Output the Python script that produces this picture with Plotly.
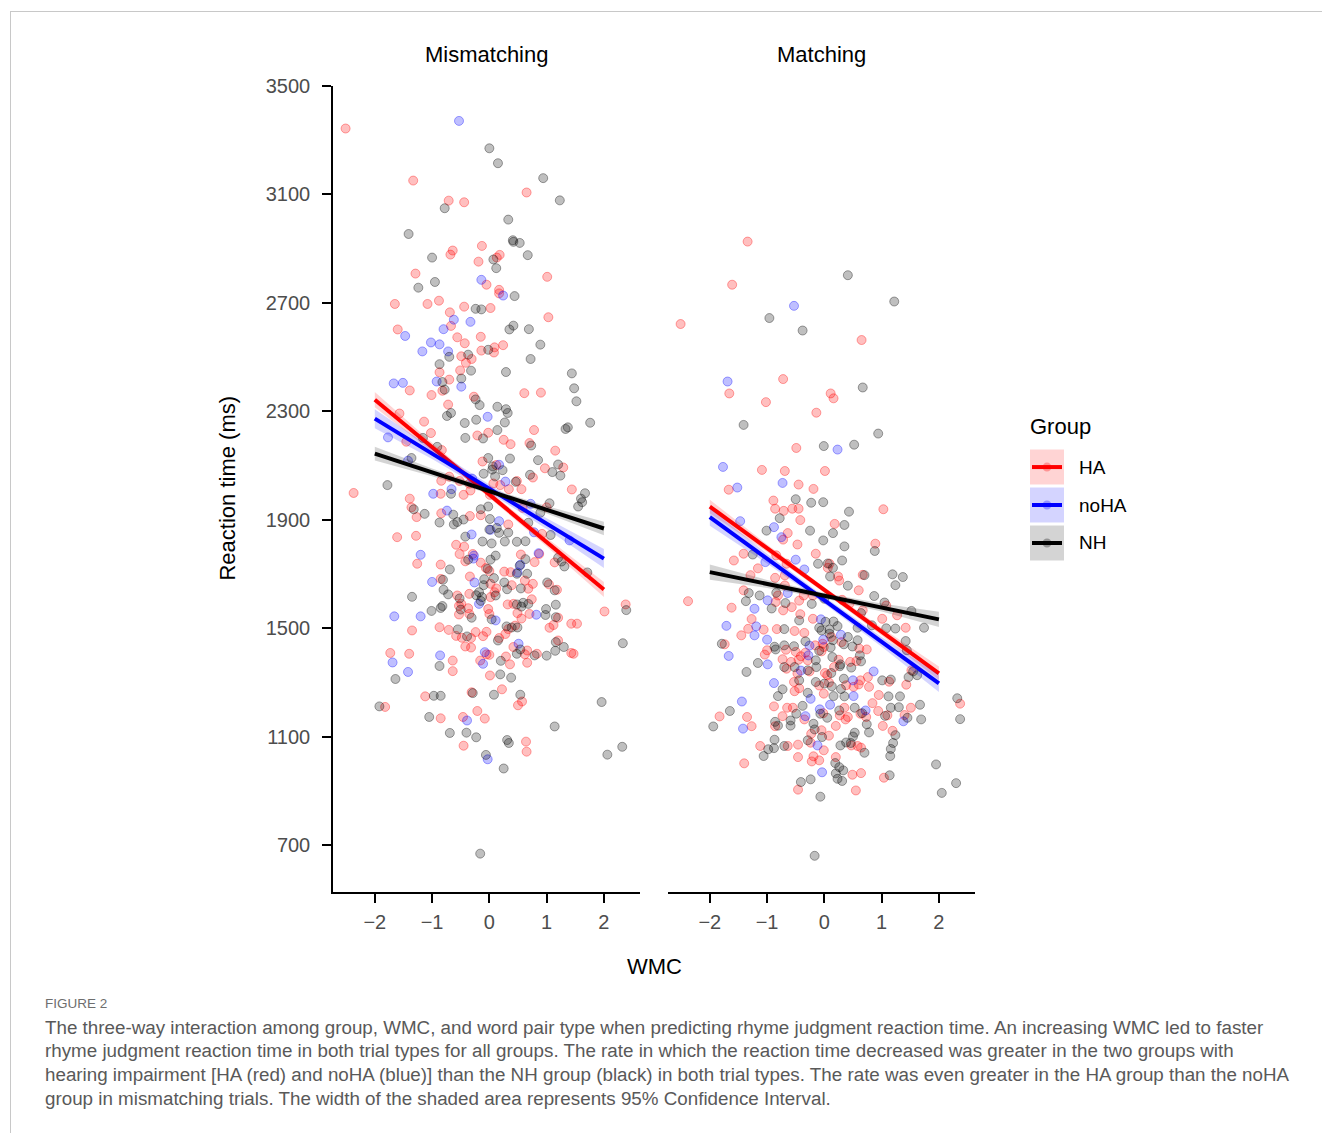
import numpy as np
import plotly.graph_objects as go

# ---------------- DATA ----------------
groups = ["HA", "noHA", "NH"]

# Mismatching panel: (WMC, reaction time ms)
mis_HA_wmc = [-2.51,-1.33,0.65,-0.71,-0.44,-0.13,-0.64,-0.68,0.18,0.13,-0.19,-1.29,1.01,-0.05,0.17,0.17,
 -1.65,-1.08,-0.88,-0.44,0.02,1.03,-0.69,-0.67,-1.6,-0.56,-0.15,-0.43,0.24,0.09,-0.14,0.08,-0.49,-0.31,-0.41,-0.51,-0.87,-0.7,-0.82,-1.39,-1.01,0.61,0.9,-0.27,-0.72,-1.57,-1.14,0.78,-1.02,-0.02,-0.21,0.25,0.37,0.7,-1.45,-0.83,1.15,-0.12,0.12,0.97,1.29,0.76,-0.84,-0.7,0.48,-0.52,-0.35,0.07,0.19,0.34,0.56,1.44,-2.37,-0.85,-0.45,-0.33,-1.39,0.01,
 -1.36,-1.27,-0.84,-0.34,-0.15,0.33,0.58,1.0,-1.61,-1.28,0.92,-0.58,-0.44,-0.52,-1.26,-0.29,-0.42,-0.15,-0.06,0.0,0.55,0.87,0.79,1.14,-0.85,-0.85,-0.34,0.26,0.37,0.62,0.02,0.39,0.76,1.04,1.18,0.68,0.12,0.09,-0.35,-0.56,0.02,-0.49,-0.53,-0.37,-0.02,0.0,-0.35,-0.53,0.32,0.42,0.49,0.74,0.56,0.7,1.2,2.01,2.38,-1.35,-0.87,-0.71,-0.58,-0.48,-0.32,-0.24,-0.11,-0.05,-0.42,-0.32,0.17,0.28,0.33,0.45,0.42,0.62,0.66,0.66,0.83,1.2,1.05,1.12,1.43,1.53,-1.73,-1.4,-0.64,-0.64,-0.05,0.0,-0.16,0.01,0.29,0.36,0.22,-1.12,-0.31,1.43,1.47,
 -1.82,-0.85,-0.46,-0.21,-0.08,0.5,0.57,-0.45,0.64,0.65]
mis_HA_rt = [3343,3151,3107,3077,3071,2910,2893,2878,2877,2867,2852,2808,2796,2767,2748,2735,
 2696,2696,2708,2686,2681,2647,2665,2615,2602,2573,2575,2551,2544,2536,2524,2517,2503,2493,2479,2451,2444,2417,2376,2377,2360,2367,2369,2354,2325,2292,2262,2231,2220,2221,2211,2195,2179,2183,2188,2157,2155,2115,2102,2090,2093,2056,2044,2059,2043,2043,2033,2034,2028,2013,2013,2012,1999,1996,1992,2008,1978,1992,
 1946,1910,1924,1914,1917,1883,1944,1946,1836,1841,1848,1808,1801,1774,1738,1774,1747,1742,1722,1711,1772,1774,1744,1743,1735,1682,1691,1709,1707,1676,1664,1659,1664,1662,1642,1646,1647,1633,1627,1621,1615,1590,1583,1574,1571,1553,1553,1551,1588,1590,1556,1607,1536,1553,1539,1562,1588,1492,1504,1494,1472,1465,1464,1486,1471,1487,1433,1429,1464,1479,1497,1510,1431,1404,1418,1373,1406,1455,1502,1512,1517,1517,1409,1406,1381,1342,1404,1402,1381,1326,1396,1367,1275,1249,1264,1409,1406,
 1210,1168,1173,1195,1167,1216,1230,1067,1082,1045]

mis_noHA_wmc = [-0.53,-0.14,0.24,-0.62,-0.8,-0.33,-1.47,-1.02,-0.87,-1.17,-0.72,-1.67,-1.51,-0.92,-0.49,-0.03,-1.77,-1.42,0.17,0.28,-0.3,-0.66,-0.98,-0.74,0.17,0.72,-0.31,0.02,0.78,1.4,-1.2,-0.27,-0.28,0.86,0.54,0.49,-1.0,-0.26,-0.18,0.11,0.82,-1.66,-1.2,-1.69,-0.86,-1.42,-0.08,-0.11,0.51,-0.39,-0.03]
mis_noHA_rt = [3371,2785,2727,2638,2603,2630,2578,2554,2547,2521,2521,2403,2405,2410,2391,2280,2204,2118,2103,2041,2052,2013,1996,1934,1895,1959,1846,1863,1854,1824,1771,1768,1757,1777,1734,1706,1671,1669,1590,1529,1550,1544,1544,1374,1400,1339,1412,1369,1443,1160,1017]

mis_NH_wmc = [0.0,0.15,0.94,1.23,-0.78,0.33,-1.41,0.41,0.42,0.53,-1.0,0.07,0.67,0.12,-0.95,-1.24,0.44,
 -0.24,-0.14,0.42,0.35,0.69,0.89,-0.02,-0.7,-0.37,0.72,-0.87,-0.32,0.29,1.44,-0.82,-0.49,-0.78,1.48,-0.24,1.52,-0.17,0.14,0.29,0.32,-0.67,-0.74,-0.23,-0.43,0.27,1.76,1.37,1.33,0.14,-0.42,-0.11,0.73,-1.16,-0.91,-1.36,-0.02,0.36,0.85,0.06,1.2,-0.1,0.05,0.23,1.1,1.24,0.1,0.71,0.46,-1.78,-0.67,1.67,1.6,
 -1.32,-1.13,-0.87,-0.63,-0.62,-0.56,-0.45,-0.15,-0.02,0.01,0.13,0.89,1.05,1.55,1.62,0.68,-0.42,0.0,0.17,0.33,-0.12,0.04,0.27,0.48,0.63,1.07,0.11,0.02,-0.37,-0.03,0.63,0.53,1.2,1.26,1.31,1.71,-0.69,-0.81,0.48,0.66,-0.09,0.08,-0.1,0.26,1.01,1.14,0.55,0.31,0.11,-0.18,-0.13,-0.23,-0.52,-0.8,-0.72,-1.35,-0.15,-0.5,-0.82,-0.85,-1.01,-0.31,0.04,0.48,0.56,0.59,0.68,0.98,0.99,1.16,1.16,2.39,-0.55,-0.39,0.15,0.3,0.49,0.39,0.54,0.48,0.79,1.0,1.15,1.3,1.16,2.33,-0.87,-1.64,0.2,0.19,0.38,-0.97,-0.85,-0.29,0.08,0.54,1.96,
 -1.92,-1.05,1.14,-0.69,-0.4,-0.23,0.31,0.34,-0.06,0.25,2.06,2.32,-0.16]
mis_NH_rt = [3270,3215,3160,3078,3049,3007,2954,2931,2925,2921,2867,2860,2876,2828,2777,2756,2725,
 2678,2676,2616,2602,2603,2546,2527,2501,2509,2493,2474,2450,2445,2440,2408,2421,2380,2385,2344,2337,2323,2317,2308,2294,2294,2283,2269,2257,2259,2258,2241,2235,2231,2202,2200,2174,2202,2169,2128,2128,2126,2120,2097,2104,2070,2085,2083,2076,2063,2060,2066,2040,2028,1996,1998,1978,
 1939,1922,1890,1919,1883,1892,1901,1939,1949,1903,1870,1926,1961,1949,1965,1889,1838,1864,1852,1853,1820,1813,1820,1819,1821,1844,1768,1753,1753,1719,1755,1731,1760,1746,1728,1706,1717,1679,1701,1701,1681,1685,1659,1669,1669,1640,1647,1644,1621,1633,1615,1622,1610,1642,1625,1616,1601,1569,1582,1575,1564,1539,1533,1588,1580,1594,1590,1549,1571,1587,1541,1567,1496,1470,1455,1507,1503,1503,1422,1406,1400,1399,1417,1431,1449,1445,1361,1313,1380,1330,1318,1251,1251,1261,1255,1255,1228,
 1212,1173,1138,1114,1115,1098,1088,1077,1033,983,1034,1063,669]

# Matching panel
mat_HA_wmc = [-1.34,-1.61,-2.51,0.65,-0.72,
 -1.66,-1.02,0.11,0.16,-0.14,-0.49,-1.09,-0.69,0.01,-0.45,-0.19,-1.67,-0.89,-0.86,-0.71,-0.56,-0.45,1.03,-0.42,-0.64,0.18,-0.72,
 -0.47,0.89,-1.41,-1.58,-0.84,-0.66,-0.15,0.09,0.06,0.67,-1.16,-1.29,-0.86,-0.69,0.26,0.24,0.6,-1.41,-2.38,-0.81,-0.69,-0.44,-0.85,-0.36,-0.2,0.31,0.44,1.08,0.67,1.27,-1.62,-0.72,-0.57,-0.42,-0.2,1.01,-1.27,-1.33,-1.06,-0.52,-0.35,1.42,-1.45,-0.83,-1.74,-1.0,-0.67,-0.5,-0.33,-0.16,-0.03,-0.01,0.12,0.3,0.61,0.74,-1.04,-0.73,-0.58,-0.45,-0.41,-0.29,-0.05,0.25,0.17,0.45,0.56,-0.66,-0.26,-0.47,0.01,0.05,0.63,0.76,0.78,1.43,1.13,1.52,-0.53,-0.52,-0.44,-0.09,0.08,0.38,0.51,0.6,-0.01,0.95,
 -0.88,-0.65,-0.55,-1.83,-1.35,-1.27,-0.73,-0.35,-0.86,-0.02,0.27,0.35,0.41,0.37,0.63,0.73,0.84,0.94,1.1,1.4,1.51,2.37,0.2,1.02,1.19,-0.23,-0.05,0.08,-1.12,-0.64,-0.46,-0.24,-0.01,0.47,0.58,0.64,-1.4,-0.46,-0.19,-0.22,-0.09,0.2,0.49,0.64,1.04,-0.46,0.55]
mat_HA_rt = [2926,2767,2622,2563,2419,
 2366,2334,2366,2348,2295,2165,2084,2080,2080,2030,2014,2011,1971,1941,1933,1941,1941,1939,1899,1851,1885,1827,
 1809,1812,1775,1750,1769,1738,1775,1738,1723,1697,1721,1696,1686,1695,1676,1691,1640,1640,1600,1621,1658,1602,1597,1621,1621,1605,1591,1584,1566,1548,1576,1566,1578,1552,1535,1535,1534,1498,1495,1490,1483,1502,1474,1497,1441,1419,1421,1413,1410,1437,1443,1431,1468,1449,1425,1422,1403,1386,1376,1384,1397,1382,1415,1384,1357,1376,1379,1351,1341,1333,1335,1327,1308,1320,1284,1292,1303,1345,1302,1268,1279,1289,1300,1290,1284,1293,1259,1254,
 1212,1207,1207,1175,1173,1139,1176,1164,1139,1187,1179,1207,1173,1164,1185,1173,1224,1195,1179,1180,1207,1222,1140,1140,1122,1111,1124,1104,1066,1066,1071,1078,1050,1068,1066,1060,1002,1025,1028,1009,1013,1025,960,966,949,905,902]

mat_noHA_wmc = [-0.53,-1.69,0.23,-1.77,-0.73,-1.52,-1.47,-0.88,-0.75,-1.03,-0.5,-0.35,-0.99,-0.64,-1.22,-0.06,-1.71,-1.19,-1.22,-1.0,-0.26,-0.02,0.29,-1.67,-0.28,-0.99,-0.41,0.5,0.86,-0.88,0.51,-1.44,-0.24,-1.42,-0.33,-0.08,0.1,0.72,1.38,-0.12,-0.04]
mat_noHA_rt = [2689,2410,2159,2095,2036,2019,1895,1873,1836,1744,1753,1717,1603,1630,1572,1533,1509,1507,1474,1458,1436,1458,1476,1398,1400,1367,1344,1308,1341,1298,1250,1230,1240,1130,1176,1201,1218,1197,1157,1068,969]

mat_NH_wmc = [0.41,1.22,-0.96,-0.38,
 0.67,-1.41,0.94,-0.01,0.52,-0.5,-0.23,-0.02,0.43,-0.78,-1.01,-0.25,0.35,0.15,-0.02,
 0.35,0.88,-1.25,-0.11,0.06,0.15,0.31,0.7,0.1,0.41,1.19,1.37,1.24,-1.32,-1.13,-1.37,-0.84,-0.68,-0.22,0.0,0.87,1.05,0.64,1.52,-0.92,-0.44,0.02,0.16,-0.7,-0.09,-0.05,0.09,0.23,0.58,0.83,1.08,1.24,1.74,0.09,-1.79,-0.87,-0.85,-0.7,-0.53,-0.33,-0.09,0.11,0.41,0.34,0.15,0.58,0.49,0.62,1.42,1.44,-0.15,0.14,0.28,0.27,0.47,0.64,-1.16,-0.7,-0.52,-0.14,-0.29,-1.36,0.12,0.34,1.01,1.16,1.47,1.55,1.62,-0.73,-0.44,-0.15,0.0,0.13,0.29,-0.29,-0.81,0.16,0.35,1.12,1.32,2.32,
 -0.38,-1.65,-1.94,-0.49,-0.59,-0.86,-0.81,-0.59,-0.07,0.05,0.26,0.53,0.66,1.06,1.16,1.3,1.45,1.67,1.69,2.37,-0.19,0.74,0.78,1.24,-0.17,-0.04,0.53,0.5,-0.98,-0.87,-0.88,-0.7,-1.06,-0.29,0.28,0.38,0.46,0.7,1.2,1.16,1.15,0.19,0.26,0.33,0.2,0.23,0.31,1.14,-0.41,-0.24,-0.07,1.95,2.05,2.3,-0.17]
mat_NH_rt = [2802,2705,2644,2598,
 2388,2250,2218,2172,2177,1976,1963,1965,1930,1906,1860,1860,1881,1851,1824,
 1802,1785,1772,1738,1739,1723,1750,1696,1691,1657,1699,1689,1659,1630,1621,1600,1631,1593,1590,1609,1619,1595,1556,1564,1573,1529,1524,1525,1497,1502,1492,1495,1508,1502,1511,1500,1499,1502,1480,1443,1432,1422,1437,1434,1452,1417,1429,1468,1441,1456,1456,1433,1400,1453,1419,1382,1394,1367,1360,1355,1378,1372,1357,1357,1357,1345,1339,1335,1314,1308,1311,1320,1341,1327,1275,1308,1302,1296,1286,1276,1262,1250,1250,1249,1249,1249,1242,
 1214,1195,1138,1185,1160,1155,1141,1141,1185,1170,1197,1207,1187,1177,1207,1209,1170,1218,1164,1165,1148,1146,1116,1106,1127,1099,1115,1101,1054,1089,1058,1066,1029,1087,1068,1079,1077,1041,1077,1055,1029,1003,988,976,965,945,937,958,933,943,879,998,893,929,661]

# Fitted lines: predicted RT at WMC = -2 and WMC = 2
fit_wmc = [-2, 2]
mis_fit = {"HA": [2343, 1643], "noHA": [2273, 1757], "NH": [2144, 1868]}
mat_fit = {"HA": [1949, 1334], "noHA": [1910, 1297], "NH": [1707, 1533]}

# 95% CI half-widths (ms) at these WMC values
ci_wmc = [-2, -1, 0, 1, 2]
mis_ci = {"HA": [28, 16, 12, 16, 28], "noHA": [35, 20, 15, 20, 35], "NH": [25, 14, 10, 14, 25]}
mat_ci = {"HA": [25, 14, 10, 14, 25], "noHA": [32, 18, 13, 18, 32], "NH": [28, 15, 10, 15, 28]}

y_ticks = [700, 1100, 1500, 1900, 2300, 2700, 3100, 3500]
x_ticks = [-2, -1, 0, 1, 2]
x_ticktext = ["\u22122", "\u22121", "0", "1", "2"]
panel_titles = ["Mismatching", "Matching"]

# ---------------- STYLE ----------------
W, H = 1322, 1133
TOP = 10                 # page offset above the plot div in the viewer
VS = 1143 / 1133         # vertical correction of the viewer capture
def px(x): return x / W
def py(y): return 1 - (y - TOP) * VS / H

rgb = {"HA": (255, 0, 0), "noHA": (0, 0, 255), "NH": (0, 0, 0)}
line_col = {"HA": "#FF0000", "noHA": "#0000FF", "NH": "#000000"}
def rgba(g, a):
    r, gg, b = rgb[g]
    return f"rgba({r},{gg},{b},{a})"

FONT = "Liberation Sans, Arial, Helvetica, sans-serif"

fig = go.Figure()

points = [
    ("x", "y", {"HA": (mis_HA_wmc, mis_HA_rt), "noHA": (mis_noHA_wmc, mis_noHA_rt), "NH": (mis_NH_wmc, mis_NH_rt)}),
    ("x2", "y2", {"HA": (mat_HA_wmc, mat_HA_rt), "noHA": (mat_noHA_wmc, mat_noHA_rt), "NH": (mat_NH_wmc, mat_NH_rt)}),
]
for xa, ya, d in points:
    for g in groups:
        xs, ys = d[g]
        fig.add_trace(go.Scatter(
            x=xs, y=ys, mode="markers", xaxis=xa, yaxis=ya, showlegend=False, hoverinfo="skip",
            marker=dict(size=9, color=rgba(g, 0.25), line=dict(color=rgba(g, 0.35), width=1))))

for xa, ya, fits, cis in [("x", "y", mis_fit, mis_ci), ("x2", "y2", mat_fit, mat_ci)]:
    for g in groups:
        cx = np.array(ci_wmc, dtype=float)
        centre = np.interp(cx, fit_wmc, fits[g])
        hw = np.array(cis[g], dtype=float)
        fig.add_trace(go.Scatter(
            x=np.concatenate([cx, cx[::-1]]), y=np.concatenate([centre + hw, (centre - hw)[::-1]]),
            fill="toself", fillcolor=rgba(g, 0.17), line=dict(width=0), mode="lines",
            xaxis=xa, yaxis=ya, showlegend=False, hoverinfo="skip"))
        fig.add_trace(go.Scatter(
            x=fit_wmc, y=fits[g], mode="lines", line=dict(color=line_col[g], width=4),
            xaxis=xa, yaxis=ya, showlegend=False, hoverinfo="skip"))

xrange = [-2.73, 2.63]
yrange = [527, 3500]
tickfont = dict(family=FONT, size=20, color="#4d4d4d")
axis_common = dict(showgrid=False, zeroline=False, showline=True, linecolor="black", linewidth=1.5,
                   ticks="outside", ticklen=9, tickwidth=1.5, tickcolor="black", tickfont=tickfont)

fig.update_layout(
    width=W, height=H, autosize=False, margin=dict(l=0, r=0, t=0, b=0),
    paper_bgcolor="white", plot_bgcolor="white", showlegend=False,
    xaxis=dict(domain=[px(333), px(640)], range=xrange, anchor="y", tickvals=x_ticks, ticktext=x_ticktext,
               ticklabelstandoff=2, **axis_common),
    xaxis2=dict(domain=[px(668), px(975)], range=xrange, anchor="y2", tickvals=x_ticks, ticktext=x_ticktext,
                ticklabelstandoff=2, **axis_common),
    yaxis=dict(domain=[py(892), py(85)], range=yrange, anchor="x", tickvals=y_ticks,
               ticklabelstandoff=8, **axis_common),
    yaxis2=dict(domain=[py(892), py(85)], range=yrange, anchor="x2", showline=False, showgrid=False,
                zeroline=False, showticklabels=False, ticks=""),
)

ann = []
ann.append(dict(text=panel_titles[0], x=px(486.5), y=py(54), xref="paper", yref="paper", showarrow=False,
                font=dict(family=FONT, size=22, color="black"), xanchor="center", yanchor="middle"))
ann.append(dict(text=panel_titles[1], x=px(821.5), y=py(54), xref="paper", yref="paper", showarrow=False,
                font=dict(family=FONT, size=22, color="black"), xanchor="center", yanchor="middle"))
ann.append(dict(text="Reaction time (ms)", x=px(228), y=py(488), xref="paper", yref="paper", showarrow=False,
                textangle=-90, font=dict(family=FONT, size=22, color="black"), xanchor="center", yanchor="middle"))
ann.append(dict(text="WMC", x=px(654), y=py(966), xref="paper", yref="paper", showarrow=False,
                font=dict(family=FONT, size=22, color="black"), xanchor="center", yanchor="middle"))

# legend (drawn manually to mimic the ggplot keys)
ann.append(dict(text="Group", x=px(1028), y=py(426), xref="paper", yref="paper", showarrow=False,
                font=dict(family=FONT, size=22, color="black"), xanchor="left", yanchor="middle"))
shapes = []
key_tops = [449, 487, 525]
for g, top in zip(groups, key_tops):
    cy = top + 17.5
    shapes.append(dict(type="rect", xref="paper", yref="paper", x0=px(1030), x1=px(1064), y0=py(top + 35), y1=py(top),
                       fillcolor=rgba(g, 0.17), line=dict(width=0), layer="above"))
    shapes.append(dict(type="circle", xref="paper", yref="paper", x0=px(1042.5), x1=px(1051.5), y0=py(cy + 4.5),
                       y1=py(cy - 4.5), fillcolor=rgba(g, 0.3), line=dict(width=0), layer="above"))
    shapes.append(dict(type="line", xref="paper", yref="paper", x0=px(1032), x1=px(1062), y0=py(cy), y1=py(cy),
                       line=dict(color=line_col[g], width=4), layer="above"))
    ann.append(dict(text=g, x=px(1077), y=py(cy), xref="paper", yref="paper", showarrow=False,
                    font=dict(family=FONT, size=19, color="black"), xanchor="left", yanchor="middle"))

# figure frame
shapes.append(dict(type="line", xref="paper", yref="paper", x0=px(10), x1=1, y0=py(10.5), y1=py(10.5),
                   line=dict(color="#c8c8c8", width=1)))
shapes.append(dict(type="line", xref="paper", yref="paper", x0=px(10.5), x1=px(10.5), y0=py(10.5), y1=0,
                   line=dict(color="#c8c8c8", width=1)))

# caption
caption_lines = [
    "The three-way interaction among group, WMC, and word pair type when predicting rhyme judgment reaction time. An increasing WMC led to faster",
    "rhyme judgment reaction time in both trial types for all groups. The rate in which the reaction time decreased was greater in the two groups with",
    "hearing impairment [HA (red) and noHA (blue)] than the NH group (black) in both trial types. The rate was even greater in the HA group than the noHA",
    "group in mismatching trials. The width of the shaded area represents 95% Confidence Interval.",
]
ann.append(dict(text="FIGURE 2", x=px(43), y=py(1003), xref="paper", yref="paper", showarrow=False,
                font=dict(family=FONT, size=13.5, color="#6e6e6e"), xanchor="left", yanchor="middle"))
for i, line in enumerate(caption_lines):
    ann.append(dict(text=line, x=px(43), y=py(1027 + 24 * i), xref="paper", yref="paper", showarrow=False,
                    font=dict(family=FONT, size=18.8, color="#595959"), xanchor="left", yanchor="middle"))

fig.update_layout(annotations=ann, shapes=shapes)
fig.write_html("out.html", config={"displayModeBar": False},
               post_script="document.body.style.margin='0';document.body.style.overflow='hidden';")
